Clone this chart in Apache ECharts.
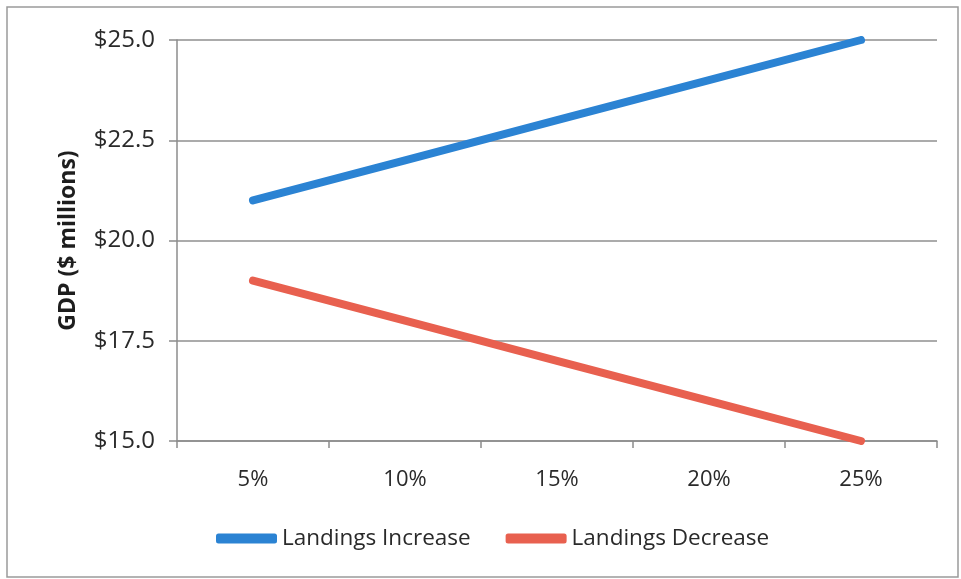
<!DOCTYPE html>
<html>
<head>
<meta charset="utf-8">
<script src="https://cdn.jsdelivr.net/npm/echarts@6/dist/echarts.min.js"></script>
<style>
  html, body { margin: 0; padding: 0; background: #ffffff; }
  #chart { width: 961px; height: 579px; }
</style>
</head>
<body>
<div id="chart"></div>
<script>
// Change in landings (x axis categories)
const categories = ['5%', '10%', '15%', '20%', '25%'];
// GDP in $ millions for each scenario
const landingsIncrease = [21.0, 22.0, 23.0, 24.0, 25.0];
const landingsDecrease = [19.0, 18.0, 17.0, 16.0, 15.0];
// Value axis range and step
const yMin = 15, yMax = 25, yStep = 2.5;

const FONT = '"Open Sans", "DejaVu Sans", sans-serif';
const AXIS_GRAY = '#8c8c8c';
const TEXT = '#2a2a2a';

const chart = echarts.init(document.getElementById('chart'), null, { renderer: 'canvas' });

chart.setOption({
  backgroundColor: '#ffffff',
  animation: false,
  graphic: [{
    type: 'rect',
    shape: { x: 7, y: 7, width: 951, height: 570 },
    style: { fill: 'none', stroke: '#9a9a9a', lineWidth: 1.5 },
    silent: true
  }],
  grid: { left: 177, right: 24, top: 40, bottom: 138 },
  legend: {
    data: ['Landings Increase', 'Landings Decrease'],
    top: 522,
    left: 211,
    icon: 'roundRect',
    itemWidth: 61,
    itemHeight: 10,
    itemGap: 35,
    textStyle: { fontFamily: FONT, fontSize: 22.5, color: TEXT }
  },
  xAxis: {
    type: 'category',
    data: categories,
    boundaryGap: true,
    axisLine: { lineStyle: { color: AXIS_GRAY, width: 1.5 } },
    axisTick: { show: true, length: 7, inside: false, lineStyle: { color: AXIS_GRAY, width: 1.5 } },
    axisLabel: { fontFamily: FONT, fontSize: 22, color: TEXT, margin: 28, lineHeight: 22 },
    splitLine: { show: false }
  },
  yAxis: {
    type: 'value',
    min: yMin,
    max: yMax,
    interval: yStep,
    name: 'GDP ($ millions)',
    nameLocation: 'middle',
    nameRotate: 90,
    nameGap: 97,
    nameTextStyle: { fontFamily: FONT, fontSize: 23, fontWeight: 'bold', color: '#1e1e1e' },
    axisLine: { show: true, lineStyle: { color: AXIS_GRAY, width: 1.5 } },
    axisTick: { show: true, length: 8, lineStyle: { color: AXIS_GRAY, width: 1.5 } },
    axisLabel: {
      fontFamily: FONT, fontSize: 24, color: TEXT, margin: 22,
      padding: [6, 0, 0, 0],
      formatter: v => '$' + v.toFixed(1)
    },
    splitLine: { show: true, lineStyle: { color: '#8f8f8f', width: 1.5 } }
  },
  series: [
    {
      name: 'Landings Increase',
      type: 'line',
      data: landingsIncrease,
      showSymbol: false,
      symbol: 'none',
      color: '#2b83d3',
      lineStyle: { width: 8, cap: 'round', join: 'round', color: '#2b83d3' }
    },
    {
      name: 'Landings Decrease',
      type: 'line',
      data: landingsDecrease,
      showSymbol: false,
      symbol: 'none',
      color: '#e8604f',
      lineStyle: { width: 8, cap: 'round', join: 'round', color: '#e8604f' }
    }
  ]
});
</script>
</body>
</html>
